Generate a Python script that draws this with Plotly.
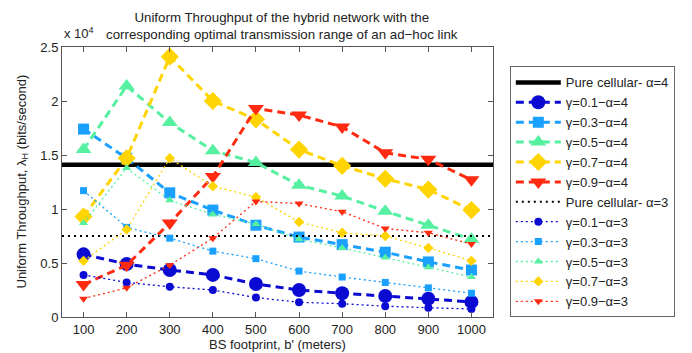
import plotly.graph_objects as go

# BS footprint b' (meters)
footprint = [100, 200, 300, 400, 500, 600, 700, 800, 900, 1000]

# Uniform throughput values in units of 10^4 bits/second
pure_cellular_a4 = 1.41
pure_cellular_a3 = 0.75

g01_a4 = [0.58, 0.49, 0.435, 0.39, 0.305, 0.25, 0.22, 0.195, 0.17, 0.14]
g03_a4 = [1.74, 1.47, 1.15, 0.99, 0.85, 0.74, 0.67, 0.60, 0.51, 0.435]
g05_a4 = [1.55, 2.14, 1.80, 1.54, 1.43, 1.22, 1.12, 0.98, 0.85, 0.72]
g07_a4 = [0.93, 1.47, 2.41, 2.00, 1.83, 1.55, 1.40, 1.28, 1.18, 0.99]
g09_a4 = [0.30, 0.48, 0.87, 1.30, 1.93, 1.87, 1.76, 1.52, 1.46, 1.27]

g01_a3 = [0.39, 0.32, 0.28, 0.25, 0.18, 0.136, 0.123, 0.10, 0.086, 0.074]
g03_a3 = [1.17, 0.83, 0.73, 0.61, 0.54, 0.425, 0.37, 0.32, 0.27, 0.22]
g05_a3 = [0.87, 1.38, 1.08, 0.95, 0.86, 0.72, 0.64, 0.55, 0.46, 0.37]
g07_a3 = [0.52, 0.81, 1.47, 1.21, 1.11, 0.88, 0.78, 0.75, 0.64, 0.52]
g09_a3 = [0.17, 0.27, 0.48, 0.73, 1.07, 1.05, 0.975, 0.82, 0.78, 0.675]

x_tick_vals = footprint
y_tick_vals = [0, 0.5, 1, 1.5, 2, 2.5]
y_tick_text = ["0", "0.5", "1", "1.5", "2", "2.5"]
X_RANGE = [50, 1050]
Y_RANGE = [0, 2.5]

colors = {
    "0.1": "#0a0ad2",
    "0.3": "#1aa0ff",
    "0.5": "#55f0a0",
    "0.7": "#ffd400",
    "0.9": "#ff2a10",
}
symbols = {
    "0.1": "circle",
    "0.3": "square",
    "0.5": "triangle-up",
    "0.7": "diamond",
    "0.9": "triangle-down",
}
big_size = {"0.1": 14, "0.3": 11, "0.5": 14, "0.7": 14, "0.9": 14}
small_size = {"0.1": 8, "0.3": 7, "0.5": 8, "0.7": 8, "0.9": 8}

series_a4 = [("0.1", g01_a4), ("0.3", g03_a4), ("0.5", g05_a4), ("0.7", g07_a4), ("0.9", g09_a4)]
series_a3 = [("0.1", g01_a3), ("0.3", g03_a3), ("0.5", g05_a3), ("0.7", g07_a3), ("0.9", g09_a3)]

fig = go.Figure()

fig.add_trace(go.Scatter(
    x=X_RANGE, y=[pure_cellular_a4, pure_cellular_a4], mode="lines",
    line=dict(color="black", width=4.5), name="Pure cellular- α=4"))

for g, vals in series_a4:
    fig.add_trace(go.Scatter(
        x=footprint, y=vals, mode="lines+markers",
        line=dict(color=colors[g], width=3, dash="8px,5px"),
        marker=dict(symbol=symbols[g], size=big_size[g], color=colors[g]),
        name=f"γ={g}−α=4"))

fig.add_trace(go.Scatter(
    x=X_RANGE, y=[pure_cellular_a3, pure_cellular_a3], mode="lines",
    line=dict(color="black", width=2, dash="2px,4px"), name="Pure cellular- α=3"))

for g, vals in series_a3:
    fig.add_trace(go.Scatter(
        x=footprint, y=vals, mode="lines+markers",
        line=dict(color=colors[g], width=1.3, dash="2px,3px"),
        marker=dict(symbol=symbols[g], size=small_size[g], color=colors[g]),
        name=f"γ={g}−α=3"))

font_family = "Liberation Sans, Arial, sans-serif"

axis_common = dict(
    showgrid=False, zeroline=False, showline=True, linecolor="#555", linewidth=1,
    mirror="ticks", ticks="inside", ticklen=5, tickcolor="#555",
    tickfont=dict(size=13, color="#222", family=font_family),
)

fig.update_layout(
    width=692, height=353,
    margin=dict(l=62, r=199, t=47, b=36),
    paper_bgcolor="white", plot_bgcolor="white",
    font=dict(family=font_family, size=13, color="#222"),
    showlegend=True,
    legend=dict(
        x=1.039, y=0.928, xanchor="left", yanchor="top",
        bordercolor="#666", borderwidth=1, bgcolor="white",
        font=dict(size=13, family=font_family, color="#222"),
        itemwidth=45, tracegroupgap=0,
    ),
    xaxis=dict(range=X_RANGE, tickvals=x_tick_vals, **axis_common),
    yaxis=dict(range=Y_RANGE, tickvals=y_tick_vals, ticktext=y_tick_text, **axis_common),
    annotations=[
        dict(text="Uniform Throughput of the hybrid network with the<br>corresponding optimal transmission range of an ad−hoc link",
             x=0.5, xref="paper", xshift=4, y=1.0, yref="paper", yshift=3, xanchor="center", yanchor="bottom",
             showarrow=False, font=dict(size=13.3, family=font_family, color="#222"), align="center"),
        dict(text="x 10<sup>4</sup>", x=0.0, xref="paper", y=1.0, yref="paper", yshift=4,
             xanchor="left", yanchor="bottom", showarrow=False,
             font=dict(size=13, family=font_family, color="#222")),
        dict(text="BS footprint, b' (meters)", x=0.5, xref="paper", y=0, yref="paper", yshift=-18,
             xanchor="center", yanchor="top", showarrow=False,
             font=dict(size=13, family=font_family, color="#222")),
        dict(text="Uniform Throughput, λ<sub>H</sub> (bits/second)", x=0, xref="paper", xshift=-30,
             y=0.5, yref="paper", xanchor="right", yanchor="middle", textangle=-90, showarrow=False,
             font=dict(size=13, family=font_family, color="#222")),
    ],
)

fig.write_html("out.html", config={"displayModeBar": False},
               post_script="document.body.style.margin='0';document.body.style.padding='0';")
